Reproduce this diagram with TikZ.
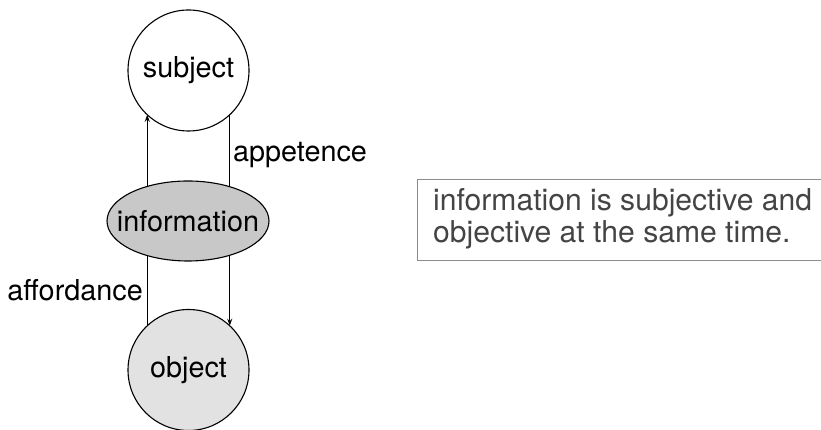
\documentclass[tikz,border=0pt]{standalone}
\usepackage{fontspec}
\setmainfont{TeX Gyre Heros}
\usetikzlibrary{shapes.geometric,arrows.meta}
\definecolor{infofill}{HTML}{C8C8C8}
\definecolor{objfill}{HTML}{E2E2E2}
\definecolor{boxline}{HTML}{8C8C8C}
\definecolor{boxtext}{HTML}{444444}
\tikzset{
  bubble/.style={circle,draw=black,line width=1.1pt,minimum size=121pt,inner sep=0pt,outer sep=0pt,font=\fontsize{28.8}{30}\selectfont},
  infoshape/.style={ellipse,draw=black,line width=1.1pt,fill=infofill,minimum width=162pt,minimum height=80pt,inner sep=0pt,outer sep=0pt,font=\fontsize{28.8}{30}\selectfont},
  conn/.style={line width=1.1pt},
  arr/.style={line width=1.1pt,-{Stealth[length=7pt,width=5pt]}},
  lbl/.style={inner sep=0pt,font=\fontsize{28.8}{30}\selectfont},
  notetext/.style={text=boxtext,align=left,inner sep=0pt,font=\fontsize{30.1}{32.5}\selectfont},
  boxframe/.style={draw=boxline,line width=1pt}
}
\begin{document}
\begin{tikzpicture}[x=1pt,y=1pt]
\useasboundingbox (0,0) rectangle (821,430);
\node[bubble] (subj) at (188.5,359.5) {subject};
\node[infoshape] (info) at (188,209) {\makebox[0pt]{information}};
\node[bubble,fill=objfill] (obj) at (188.5,60) {object};
% upper connectors
\draw[arr] (subj.-133 |- info.140) -- (subj.-133);
\draw[conn] (subj.-47) -- (subj.-47 |- info.40);
% lower connectors
\draw[arr] (obj.47 |- info.-40) -- (obj.47);
\draw[conn] (obj.133) -- (obj.133 |- info.-140);
\node[lbl,anchor=west] (appl) at (233,275) {appetence};
\node[lbl,anchor=east] (affl) at (143,140) {affordance};
\node[notetext,anchor=west] (note) at (433,211) {information is subjective and\\objective at the same time.};
\draw[boxframe] (832,250) -- (417,250) -- (417,169) -- (832,169);
\end{tikzpicture}
\end{document}
